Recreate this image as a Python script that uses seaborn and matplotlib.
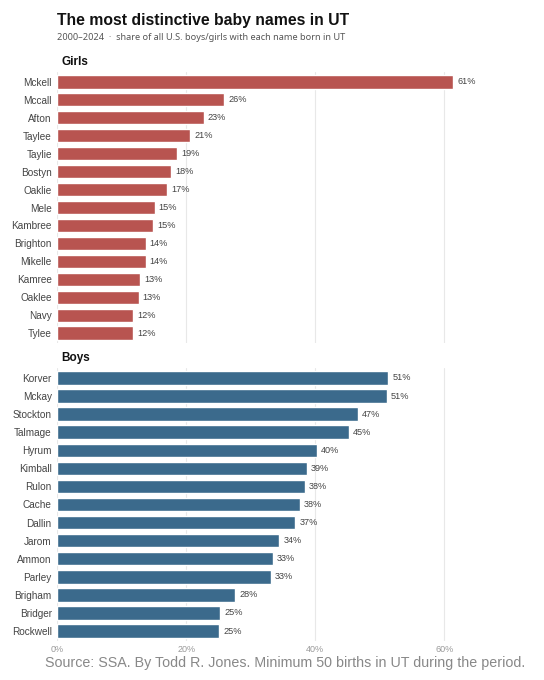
import matplotlib
matplotlib.use("Agg")
import matplotlib.pyplot as plt
import seaborn as sns

# share of all U.S. babies with the name that were born in UT, 2000-2024 (%)
girls_names = ["Mckell", "Mccall", "Afton", "Taylee", "Taylie", "Bostyn", "Oaklie", "Mele",
               "Kambree", "Brighton", "Mikelle", "Kamree", "Oaklee", "Navy", "Tylee"]
girls_share = [61.4, 25.9, 22.7, 20.6, 18.6, 17.6, 17.0, 15.1,
               14.9, 13.7, 13.7, 12.9, 12.6, 11.8, 11.8]

boys_names = ["Korver", "Mckay", "Stockton", "Talmage", "Hyrum", "Kimball", "Rulon", "Cache",
              "Dallin", "Jarom", "Ammon", "Parley", "Brigham", "Bridger", "Rockwell"]
boys_share = [51.3, 51.1, 46.6, 45.2, 40.2, 38.7, 38.4, 37.6,
              36.9, 34.4, 33.4, 33.1, 27.6, 25.3, 25.1]

x_ticks = [0, 20, 40, 60]
x_tick_labels = ["0%", "20%", "40%", "60%"]

GIRL_COLOR = "#B85450"
BOY_COLOR = "#3B6A8C"

sns.set_theme(style="white")
plt.rcParams["font.family"] = ["Liberation Sans", "DejaVu Sans"]

fig = plt.figure(figsize=(5.44, 6.8), dpi=100)
left, right = 57.3 / 544, 470 / 544
ax_g = fig.add_axes([left, 1 - 343 / 680, right - left, (343 - 72) / 680])
ax_b = fig.add_axes([left, 1 - 641 / 680, right - left, (641 - 368) / 680])


def draw_panel(ax, names, values, color, show_x):
    sns.barplot(x=values, y=names, color=color, width=0.74, saturation=1, ax=ax)
    ax.bar_label(ax.containers[0], labels=[f"{v:.0f}%" for v in values],
                 padding=3, fontsize=6.6, color="#444444")
    ax.set_xlim(0, 64.0)
    ax.set_ylim(len(names) - 0.45, -0.55)
    ax.set_xticks(x_ticks)
    ax.grid(axis="x", color="#e8e8e8", linewidth=0.8)
    ax.set_axisbelow(True)
    for s in ax.spines.values():
        s.set_visible(False)
    ax.set_xlabel("")
    ax.set_ylabel("")
    ax.tick_params(axis="y", length=0, pad=4, labelsize=7.2, labelcolor="#444444")
    if show_x:
        ax.set_xticklabels(x_tick_labels)
        ax.tick_params(axis="x", length=0, pad=3, labelsize=6.5, labelcolor="#999999")
    else:
        ax.tick_params(axis="x", length=0, labelbottom=False)


draw_panel(ax_g, girls_names, girls_share, GIRL_COLOR, False)
draw_panel(ax_b, boys_names, boys_share, BOY_COLOR, True)

fig.text(57 / 544, 1 - 20 / 680, "The most distinctive baby names in UT",
         fontsize=11.3, fontweight="bold", color="#111111", va="center", ha="left")
fig.text(57 / 544, 1 - 37 / 680,
         "2000\u20132024  \u00b7  share of all U.S. boys/girls with each name born in UT",
         fontsize=6.6, color="#555555", va="center", ha="left",
         family=["Noto Sans", "DejaVu Sans"])
fig.text(61 / 544, 1 - 62 / 680, "Girls", fontsize=8.5, fontweight="bold",
         color="#111111", va="center", ha="left")
fig.text(61 / 544, 1 - 358 / 680, "Boys", fontsize=8.5, fontweight="bold",
         color="#111111", va="center", ha="left")
fig.text(285.5 / 544, 1 - 663 / 680,
         "Source: SSA. By Todd R. Jones. Minimum 50 births in UT during the period.",
         fontsize=10.3, color="#888888", va="center", ha="center")

fig.savefig("out.png", dpi=100)
